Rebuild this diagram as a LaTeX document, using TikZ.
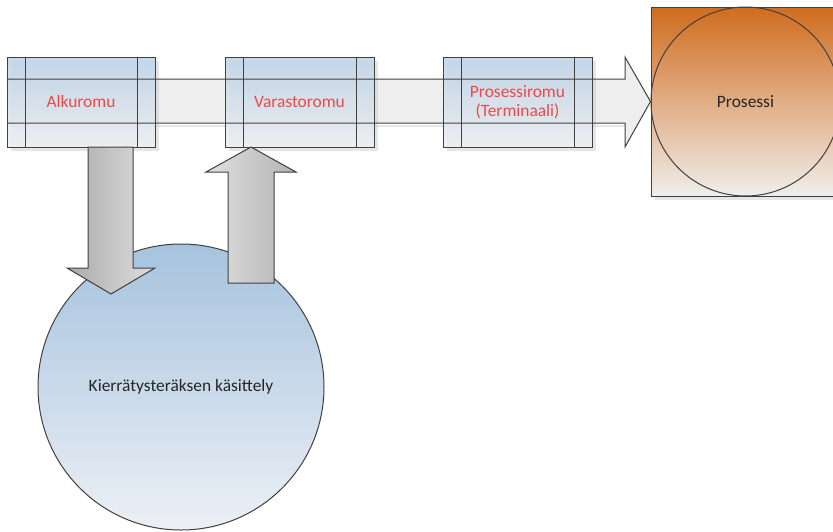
\documentclass[tikz,border=0pt]{standalone}
\usepackage{fontspec}
\setmainfont{Carlito}
\definecolor{edge}{RGB}{64,64,64}
\definecolor{roomtop}{RGB}{188,211,231}
\definecolor{roombot}{RGB}{238,240,243}
\definecolor{roomtxt}{RGB}{240,72,72}
\definecolor{ballTop}{RGB}{166,195,222}
\definecolor{ballBot}{RGB}{236,240,245}
\definecolor{procTop}{RGB}{208,108,30}
\definecolor{procBot}{RGB}{240,238,236}
\definecolor{flowfill}{RGB}{238,238,238}
\definecolor{shade}{RGB}{200,200,200}
\tikzset{
  line/.style={draw=edge, line width=1pt},
  room/.style={rectangle, line, inner sep=0pt, outer sep=0pt,
    minimum height=90, top color=roomtop, bottom color=roombot,
    fill opacity=0.85, text opacity=1, text=roomtxt, align=center},
  dropshadow/.style={fill=shade, opacity=0.45, draw=none},
  blockdown/.style={line, left color=black!33, right color=black!13},
  blockup/.style={line, left color=black!12, right color=black!30},
}
\begin{document}
\begin{tikzpicture}[x=1pt, y=-1pt, font=\fontsize{17.4}{19}\selectfont]
\useasboundingbox (0,0) rectangle (833,531);

% recycling circle
\node[circle, line, minimum size=286, inner sep=0pt, top color=ballTop,
  bottom color=ballBot, text=black!85] (ball) at (181,387)
  {Kierrätysteräksen käsittely};

% process square with its circle
\fill[dropshadow] (655,11) rectangle (844,200);
\node[rectangle, line, minimum size=189, inner sep=0pt, outer sep=0pt,
  top color=procTop, bottom color=procBot] (procbox) at (745.5,101.5) {};
\node[circle, line, minimum size=189, inner sep=0pt, text=black!85]
  (proc) at (745.5,101.5) {Prosessi};

% main flow arrow (fill)
\fill[dropshadow] (9,125) rectangle (625,127);
\fill[flowfill] (7,79) -- (625,79) -- (625,57) -- (651,101) -- (625,147)
  -- (625,123) -- (7,123) -- cycle;

% rooms
\foreach \cx/\w in {81/148, 299.5/149, 517.5/149}
  \fill[dropshadow] (\cx-\w/2+4,61) rectangle (\cx+\w/2+4,151);
\node[room, minimum width=148] (alku) at (81,102) {Alkuromu};
\node[room, minimum width=149] (vara) at (299.5,102) {Varastoromu};
\node[room, minimum width=149] (term) at (517.5,102) {Prosessiromu\\(Terminaali)};
\foreach \n in {alku, vara, term} {
  \draw[line] ([xshift=18pt]\n.north west) -- ([xshift=18pt]\n.south west);
  \draw[line] ([xshift=-18pt]\n.north east) -- ([xshift=-18pt]\n.south east);
}

% main flow arrow (outline over the rooms)
\draw[line, line join=miter] (alku.west |- 0,79) -- (625,79) -- (625,57)
  -- (proc.west) -- (625,147) -- (625,123) -- (alku.west |- 0,123);

% block arrows between alkuromu, the circle and varastoromu
\coordinate (dtop) at (alku.south -| 110.5,0);
\coordinate (utip) at (vara.south -| 251,0);
\draw[blockdown, line join=miter] ([xshift=-22.5pt]dtop) -- ([xshift=22.5pt]dtop)
  -- (133,268) -- (155,268) -- (111,294) -- (67,268) -- (88,268) -- cycle;
\draw[blockup, line join=miter] (228,283) -- (274,283) -- (274,172)
  -- (296,172) -- (utip) -- (206,172) -- (228,172) -- cycle;
\end{tikzpicture}
\end{document}
